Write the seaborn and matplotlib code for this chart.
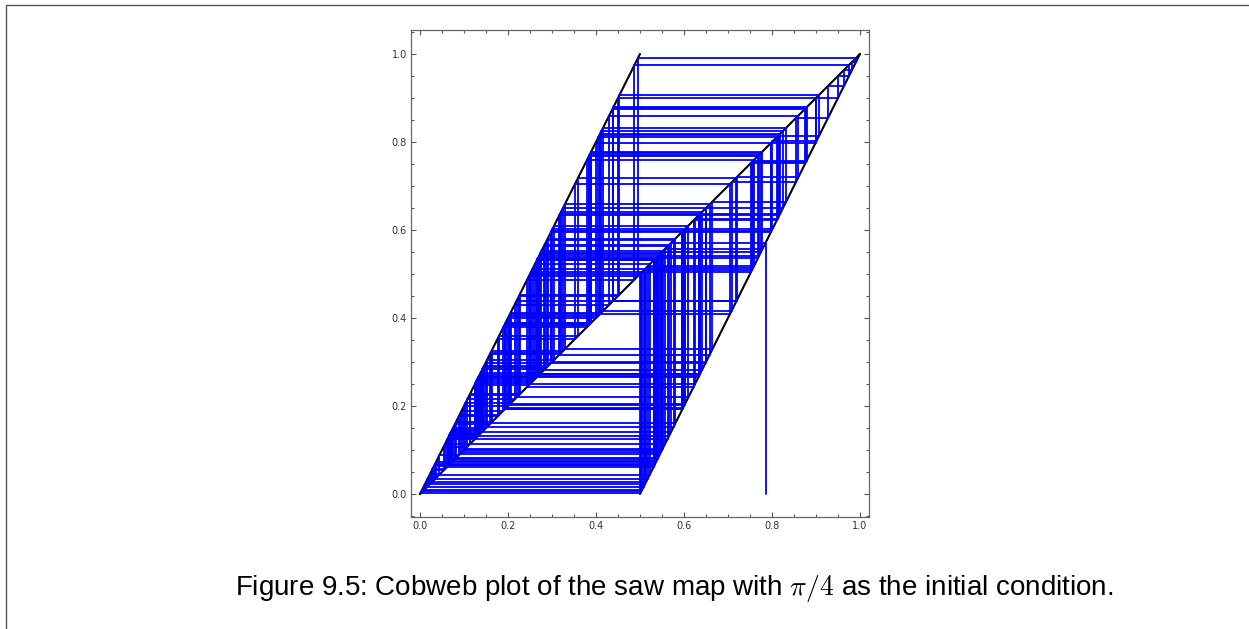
import matplotlib
matplotlib.use("Agg")
import matplotlib.pyplot as plt
from matplotlib.lines import Line2D
from matplotlib.ticker import MultipleLocator, FormatStrFormatter
import seaborn as sns
import pandas as pd

# orbit of the saw map x -> 2x mod 1 starting at pi/4 (200 steps)
orbit = [
    0.7854, 0.5708, 0.1416, 0.2832, 0.5664, 0.1327, 0.2655, 0.5310, 0.0619, 0.1239,
    0.2477, 0.4954, 0.9909, 0.9818, 0.9635, 0.9270, 0.8540, 0.7081, 0.4161, 0.8323,
    0.6646, 0.3292, 0.6583, 0.3167, 0.6333, 0.2666, 0.5333, 0.0666, 0.1332, 0.2663,
    0.5326, 0.0653, 0.1305, 0.2610, 0.5220, 0.0440, 0.0881, 0.1762, 0.3523, 0.7046,
    0.4092, 0.8184, 0.6369, 0.2737, 0.5474, 0.0948, 0.1897, 0.3793, 0.7586, 0.5172,
    0.0345, 0.0689, 0.1379, 0.2758, 0.5515, 0.1031, 0.2061, 0.4123, 0.8245, 0.6490,
    0.2980, 0.5961, 0.1922, 0.3843, 0.7687, 0.5373, 0.0746, 0.1492, 0.2984, 0.5969,
    0.1937, 0.3875, 0.7749, 0.5499, 0.0998, 0.1995, 0.3991, 0.7981, 0.5962, 0.1925,
    0.3849, 0.7699, 0.5398, 0.0795, 0.1591, 0.3181, 0.6362, 0.2725, 0.5449, 0.0899,
    0.1797, 0.3595, 0.7190, 0.4379, 0.8758, 0.7517, 0.5034, 0.0067, 0.0134, 0.0269,
    0.0537, 0.1075, 0.2150, 0.4299, 0.8598, 0.7196, 0.4393, 0.8785, 0.7570, 0.5141,
    0.0281, 0.0563, 0.1126, 0.2251, 0.4503, 0.9005, 0.8011, 0.6021, 0.2043, 0.4085,
    0.8170, 0.6341, 0.2681, 0.5363, 0.0725, 0.1450, 0.2900, 0.5801, 0.1602, 0.3204,
    0.6408, 0.2815, 0.5631, 0.1261, 0.2523, 0.5045, 0.0090, 0.0180, 0.0360, 0.0720,
    0.1441, 0.2881, 0.5762, 0.1524, 0.3048, 0.6096, 0.2193, 0.4385, 0.8771, 0.7542,
    0.5083, 0.0167, 0.0334, 0.0667, 0.1334, 0.2669, 0.5338, 0.0676, 0.1352, 0.2703,
    0.5406, 0.0813, 0.1626, 0.3252, 0.6503, 0.3007, 0.6014, 0.2027, 0.4055, 0.8109,
    0.6219, 0.2437, 0.4874, 0.9748, 0.9497, 0.8993, 0.7986, 0.5973, 0.1946, 0.3892,
    0.7783, 0.5566, 0.1133, 0.2266, 0.4532, 0.9063, 0.8126, 0.6252, 0.2505, 0.5010,
    0.0020, 0.0040, 0.0080, 0.0160, 0.0320, 0.0639, 0.1279, 0.2557, 0.5115, 0.0229,
    0.0459,
]

# the saw map (two branches) and the diagonal
left_x, left_y = [0.0, 0.5], [0.0, 1.0]
right_x, right_y = [0.5, 1.0], [0.0, 1.0]
diag_x, diag_y = [0.0, 1.0], [0.0, 1.0]

caption = r"Figure 9.5: Cobweb plot of the saw map with $\pi/4$ as the initial condition."

sns.set_style("ticks")
plt.rcParams["mathtext.fontset"] = "cm"

# cobweb path: up from the x axis, then stairs between map and diagonal
xs = [orbit[0]]
ys = [0.0]
for i in range(len(orbit) - 1):
    xs += [orbit[i], orbit[i + 1]]
    ys += [orbit[i + 1], orbit[i + 1]]
cob = pd.DataFrame({"x": xs, "y": ys})

fig = plt.figure(figsize=(12.49, 6.29), dpi=100)
ax = fig.add_axes([411 / 1249, 1 - 517 / 629, 458 / 1249, 487 / 629])

for bx, by in [(left_x, left_y), (right_x, right_y), (diag_x, diag_y)]:
    sns.lineplot(x=bx, y=by, sort=False, estimator=None, color="black", lw=1.5, ax=ax)
sns.lineplot(data=cob, x="x", y="y", sort=False, estimator=None, color="blue", lw=1.3, ax=ax)

ax.set_xlim(-0.0205, 1.0205)
ax.set_ylim(-0.0523, 1.0545)
ax.set_xlabel("")
ax.set_ylabel("")
for a in (ax.xaxis, ax.yaxis):
    a.set_major_locator(MultipleLocator(0.2))
    a.set_minor_locator(MultipleLocator(0.05))
    a.set_major_formatter(FormatStrFormatter("%.1f"))
ax.tick_params(which="both", direction="in", top=True, right=True, colors="#555555",
               labelcolor="#333333", labelsize=7, width=0.8)
ax.tick_params(which="major", length=3.5, pad=3)
ax.tick_params(which="minor", length=2)
for s in ax.spines.values():
    s.set_color("#666666")
    s.set_linewidth(0.9)

fig.text(674 / 1249, 1 - 595 / 629, caption, ha="center", va="baseline",
         fontsize=20, family="Liberation Sans", color="black")

# page frame (left and top edges)
fig.add_artist(Line2D([5.5 / 1249, 5.5 / 1249], [0, 1 - 4.5 / 629], color="#555555", lw=1.0))
fig.add_artist(Line2D([5.5 / 1249, 1], [1 - 4.5 / 629, 1 - 4.5 / 629], color="#555555", lw=1.0))

fig.savefig("out.png", dpi=100)
